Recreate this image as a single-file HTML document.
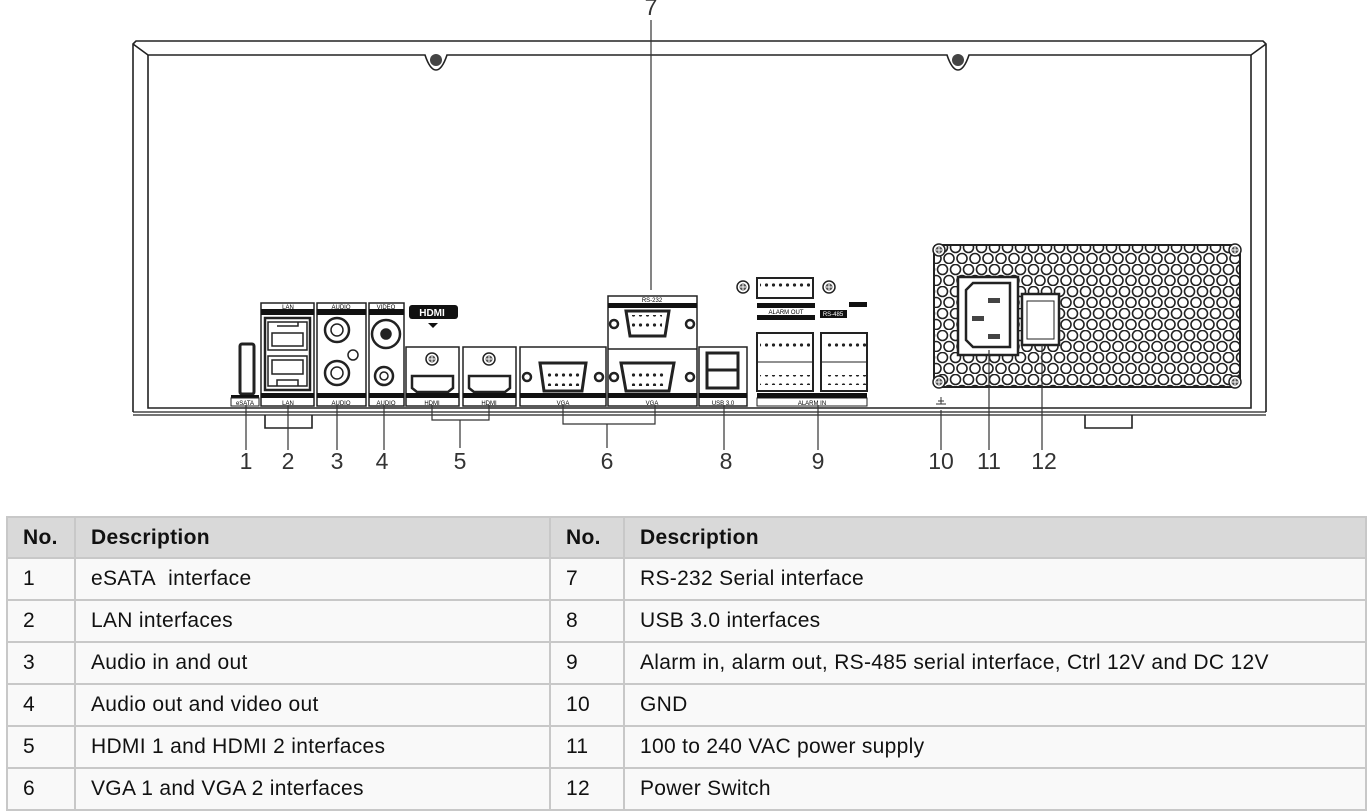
<!DOCTYPE html>
<html><head><meta charset="utf-8"><style>
body{margin:0;width:1371px;height:812px;background:#fff;overflow:hidden;position:relative;font-family:"Liberation Sans",sans-serif}
svg{position:absolute;left:0;top:0}
table{position:absolute;left:6px;top:516px;border-collapse:collapse;width:1361px;font-size:21px;color:#111}
td{border:2px solid #c8c8c8;padding:0 0 0 15px;background:#f9f9f9;letter-spacing:0.3px}
tr{height:42px}
tr.h{height:41px}
tr.h td{background:#d9d9d9;font-weight:bold}
</style></head><body>
<svg width="1371" height="500" viewBox="0 0 1371 500">
<defs>
<pattern id="hex" width="13" height="22" patternUnits="userSpaceOnUse">
<circle cx="6.5" cy="5.5" r="5" fill="none" stroke="#222" stroke-width="1.6"/>
<circle cx="0" cy="16.5" r="5" fill="none" stroke="#222" stroke-width="1.6"/>
<circle cx="13" cy="16.5" r="5" fill="none" stroke="#222" stroke-width="1.6"/>
</pattern>
<pattern id="pins" width="7" height="10" patternUnits="userSpaceOnUse"><circle cx="3.5" cy="5" r="1.6" fill="#222"/></pattern>
<g id="scr"><circle r="6" fill="#fff" stroke="#222" stroke-width="1.5"/><circle r="3.5" fill="#555"/><path d="M-3 0H3M0-3V3" stroke="#fff" stroke-width="1"/></g>
</defs>
<g fill="none" stroke="#222" stroke-width="1.6">
<path d="M133 412V44L136 41H1263L1266 44V412"/>
<path d="M133 44L148 55H425 Q430 70 436 70 Q442 70 447 55H947 Q952 70 958 70 Q964 70 969 55H1251L1266 44"/>
<path d="M148 55V408H1251V55"/>
<path d="M133 412H1266M133 415H1266" stroke-width="1.2"/>
<path d="M265 415V428H312V415M1085 415V428H1132V415"/>
</g>
<circle cx="436" cy="60" r="6" fill="#444"/><circle cx="958" cy="60" r="6" fill="#444"/>
<rect x="240" y="344" width="14" height="50" rx="2" fill="none" stroke="#222" stroke-width="3"/>
<rect x="231" y="395" width="28" height="3" fill="#111"/>
<rect x="231" y="398" width="28" height="8" fill="none" stroke="#222"/>
<text x="245" y="405" font-size="6" text-anchor="middle">eSATA</text>
<g fill="none" stroke="#222" stroke-width="1.5">
<rect x="261" y="303" width="53" height="103"/>
<rect x="265" y="318" width="45" height="72" stroke-width="2.5"/>
<path d="M268 322H307V350H268Z M277 326H298V322 M272 333H303V346H272Z"/>
<path d="M268 356H307V386H268Z M277 386V380H298V386 M272 360H303V374H272Z"/>
<rect x="317" y="303" width="49" height="103"/>
<rect x="369" y="303" width="35" height="103"/>
<circle cx="337" cy="330" r="12" stroke-width="2.5"/><circle cx="337" cy="330" r="6"/>
<circle cx="337" cy="373" r="12" stroke-width="2.5"/><circle cx="337" cy="373" r="6"/>
<circle cx="353" cy="355" r="5"/>
<circle cx="386" cy="334" r="14" stroke-width="2.5"/><circle cx="386" cy="334" r="5" fill="#222"/>
<circle cx="384" cy="376" r="9" stroke-width="2.5"/><circle cx="384" cy="376" r="4"/>
</g>
<g fill="#111"><rect x="261" y="309" width="53" height="6"/><rect x="261" y="393" width="53" height="5"/>
<rect x="317" y="309" width="49" height="6"/><rect x="317" y="393" width="49" height="5"/>
<rect x="369" y="309" width="35" height="6"/><rect x="369" y="393" width="35" height="5"/></g>
<g font-size="6" text-anchor="middle"><text x="288" y="309">LAN</text><text x="288" y="405">LAN</text>
<text x="341" y="309">AUDIO</text><text x="341" y="405">AUDIO</text><text x="386" y="309">VIDEO</text><text x="386" y="405">AUDIO</text></g>
<rect x="409" y="305" width="49" height="14" rx="3" fill="#111"/>
<text x="432" y="316" font-size="10" font-weight="bold" fill="#fff" text-anchor="middle">HDMI</text>
<path d="M428 323H438L433 328Z" fill="#111"/>
<g fill="none" stroke="#222" stroke-width="1.5">
<rect x="406" y="347" width="53" height="59"/><rect x="463" y="347" width="53" height="59"/>
<path d="M412 376H453V388L448 392H417L412 388Z M469 376H510V388L505 392H474L469 388Z" stroke-width="2.5"/>
<rect x="520" y="347" width="86" height="59"/>
<rect x="608" y="296" width="89" height="110"/><path d="M608 349H697"/>
<path d="M540 363H586L582 391H544Z M621 363H674L669 391H626Z M626 311H669L665 336H630Z" stroke-width="3"/>
<circle cx="527" cy="377" r="4" stroke-width="2.5"/><circle cx="599" cy="377" r="4" stroke-width="2.5"/>
<circle cx="614" cy="377" r="4" stroke-width="2.5"/><circle cx="690" cy="377" r="4" stroke-width="2.5"/>
<circle cx="614" cy="324" r="4" stroke-width="2.5"/><circle cx="690" cy="324" r="4" stroke-width="2.5"/>
<rect x="699" y="347" width="48" height="59"/>
<rect x="707" y="353" width="31" height="35" stroke-width="3"/><path d="M707 370H738" stroke-width="3"/>
</g>
<rect x="546" y="368" width="35" height="18" fill="url(#pins)"/><rect x="628" y="368" width="38" height="18" fill="url(#pins)"/><rect x="632" y="315" width="30" height="18" fill="url(#pins)"/>
<use href="#scr" x="432" y="359"/><use href="#scr" x="489" y="359"/>
<g fill="#111"><rect x="406" y="393" width="53" height="5"/><rect x="463" y="393" width="53" height="5"/><rect x="520" y="393" width="86" height="5"/><rect x="608" y="393" width="89" height="5"/><rect x="608" y="303" width="89" height="5"/><rect x="699" y="393" width="48" height="5"/></g>
<g font-size="6" text-anchor="middle"><text x="432" y="405">HDMI</text><text x="489" y="405">HDMI</text><text x="563" y="405">VGA</text><text x="652" y="405">VGA</text><text x="652" y="302">RS-232</text><text x="723" y="405">USB 3.0</text></g>
<g fill="none" stroke="#222" stroke-width="2">
<rect x="757" y="278" width="56" height="20"/>
<rect x="757" y="333" width="56" height="58"/><rect x="821" y="333" width="46" height="58"/>
<path d="M757 362H813M821 362H867" stroke-width="1"/>
<rect x="757" y="398" width="110" height="8" stroke-width="1"/>
</g>
<rect x="760" y="281" width="50" height="10" fill="url(#pins)"/>
<rect x="760" y="338" width="50" height="10" fill="url(#pins)"/><rect x="760" y="375" width="50" height="10" fill="url(#pins)"/>
<rect x="824" y="338" width="42" height="10" fill="url(#pins)"/><rect x="824" y="375" width="42" height="10" fill="url(#pins)"/>
<use href="#scr" x="743" y="287"/><use href="#scr" x="829" y="287"/>
<g fill="#111"><rect x="757" y="303" width="58" height="5"/><rect x="757" y="315" width="58" height="5"/><rect x="820" y="310" width="27" height="8"/><rect x="849" y="302" width="18" height="5"/><rect x="757" y="393" width="110" height="5"/></g>
<text x="786" y="314" font-size="6" text-anchor="middle">ALARM OUT</text><text x="833" y="316" font-size="6" fill="#fff" text-anchor="middle">RS-485</text>
<text x="812" y="405" font-size="6" text-anchor="middle">ALARM IN</text>
<path d="M934 245H1240V387H934Z" fill="url(#hex)" stroke="none"/>
<rect x="934" y="245" width="306" height="142" rx="8" fill="none" stroke="#222" stroke-width="2"/>
<rect x="958" y="277" width="60" height="78" fill="#fff" stroke="#222" stroke-width="2.5"/>
<path d="M966 290L973 283H1010V347H973L966 340Z" fill="#fff" stroke="#222" stroke-width="2.5"/>
<rect x="988" y="298" width="12" height="5" fill="#444"/><rect x="972" y="316" width="12" height="5" fill="#444"/><rect x="988" y="334" width="12" height="5" fill="#444"/>
<rect x="1022" y="294" width="37" height="51" fill="#fff" stroke="#222" stroke-width="2.5"/>
<rect x="1027" y="301" width="27" height="38" fill="none" stroke="#222"/>
<use href="#scr" x="939" y="250"/><use href="#scr" x="1235" y="250"/><use href="#scr" x="939" y="382"/><use href="#scr" x="1235" y="382"/>
<g stroke="#333" stroke-width="1.2" fill="none">
<path d="M246 405V450M288 405V450M337 405V450M384 405V450"/>
<path d="M432 405V420H489V405M460 420V448"/>
<path d="M563 405V424H655V405M607 424V448"/>
<path d="M651 20V290M724 405V450M818 405V450M941 410V450M989 350V450M1042 345V450"/>
</g>
<path d="M936 404H946M938 401H944M941 397V404" stroke="#333"/>
<g font-size="23" fill="#333" text-anchor="middle">
<text x="246" y="469">1</text><text x="288" y="469">2</text><text x="337" y="469">3</text><text x="382" y="469">4</text><text x="460" y="469">5</text><text x="607" y="469">6</text><text x="651" y="15">7</text><text x="726" y="469">8</text><text x="818" y="469">9</text><text x="941" y="469">10</text><text x="989" y="469">11</text><text x="1044" y="469">12</text>
</g>
</svg>
<table>
<colgroup><col style="width:68px"><col style="width:475px"><col style="width:74px"><col></colgroup>
<tr class="h"><td>No.</td><td>Description</td><td>No.</td><td>Description</td></tr>
<tr><td>1</td><td>eSATA&nbsp; interface</td><td>7</td><td>RS-232 Serial interface</td></tr>
<tr><td>2</td><td>LAN interfaces</td><td>8</td><td>USB 3.0 interfaces</td></tr>
<tr><td>3</td><td>Audio in and out</td><td>9</td><td>Alarm in, alarm out, RS-485 serial interface, Ctrl 12V and DC 12V</td></tr>
<tr><td>4</td><td>Audio out and video out</td><td>10</td><td>GND</td></tr>
<tr><td>5</td><td>HDMI 1 and HDMI 2 interfaces</td><td>11</td><td>100 to 240 VAC power supply</td></tr>
<tr><td>6</td><td>VGA 1 and VGA 2 interfaces</td><td>12</td><td>Power Switch</td></tr>
</table>
</body></html>
